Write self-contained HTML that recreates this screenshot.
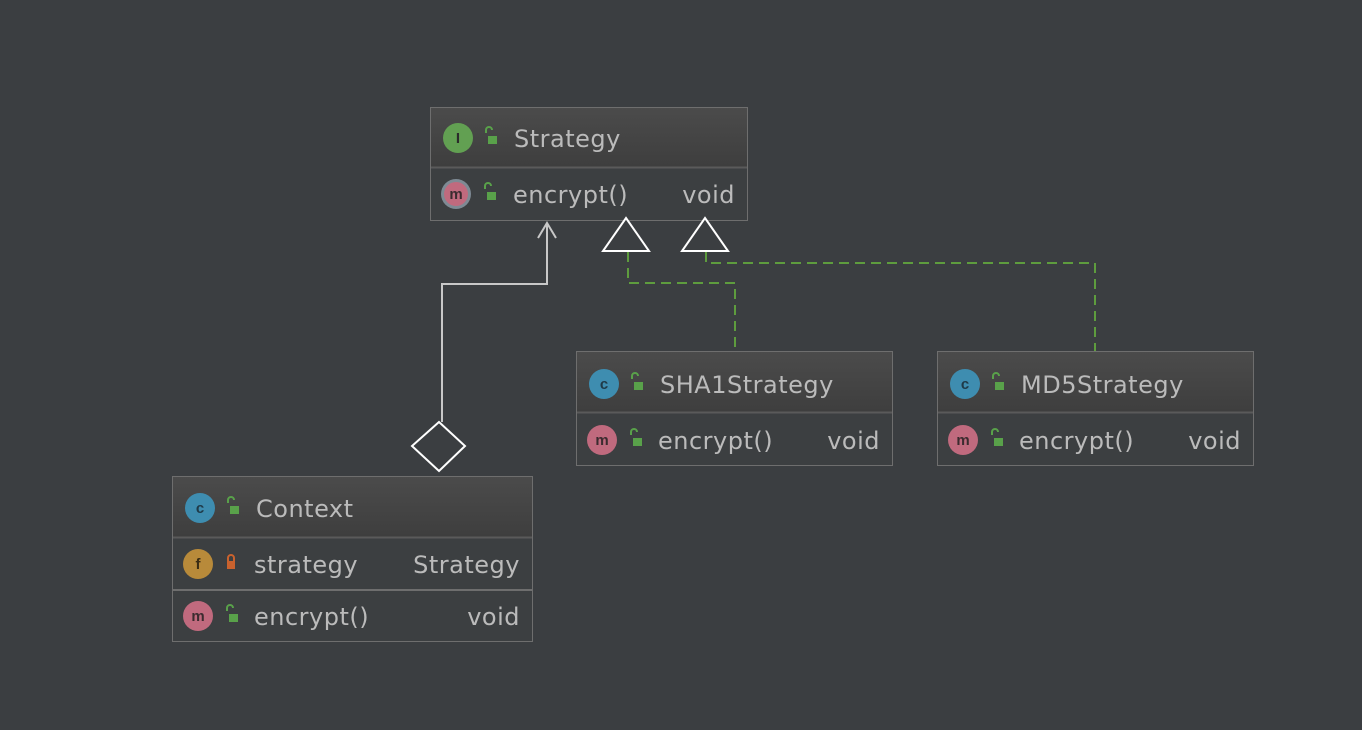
<!DOCTYPE html>
<html><head><meta charset="utf-8"><style>
html,body{margin:0;padding:0;background:#3b3e41;}
svg{display:block;}
text{font-family:"DejaVu Sans","Liberation Sans",sans-serif;font-size:24px;fill:#bbbbbb;letter-spacing:0.5px;}
.ic{font-family:"Liberation Sans",sans-serif;font-size:15px;font-weight:bold;text-anchor:middle;letter-spacing:0;}
</style></head><body>
<svg width="1362" height="730" viewBox="0 0 1362 730" xmlns="http://www.w3.org/2000/svg">
<defs>
<linearGradient id="hg" x1="0" y1="0" x2="0" y2="1">
<stop offset="0" stop-color="#4b4b4b"/><stop offset="1" stop-color="#3e3e3e"/>
</linearGradient>
<g id="lk"><path d="M-5,-8 v-3 a3,3 0 0 1 6,0" fill="none" stroke="#59a14a" stroke-width="2"/><rect x="-3" y="-5" width="9" height="8" fill="#59a14a"/></g>
<g id="lko"><path d="M-3,-3 v-3 a3,3 0 0 1 6,0 v3" fill="none" stroke="#c9622e" stroke-width="2"/><rect x="-4" y="-3" width="8" height="8" fill="#c9622e"/></g>
</defs>
<rect width="1362" height="730" fill="#3b3e41"/>

<!-- Strategy -->
<rect x="430.5" y="107.5" width="317" height="113" fill="#3c3f41" stroke="#6e6e6e"/>
<rect x="431" y="108" width="316" height="59" fill="url(#hg)"/>
<line x1="431" y1="167.5" x2="747" y2="167.5" stroke="#5a5a5a" stroke-width="2"/>
<circle cx="458" cy="138" r="15" fill="#62a052"/><text class="ic" x="458" y="143" style="fill:#2b2b2b">I</text>
<use href="#lk" x="491" y="141"/>
<text x="514" y="147">Strategy</text>
<circle cx="456" cy="194" r="15" fill="#7e8a94"/><circle cx="456" cy="194" r="12" fill="#c06a7e"/><text class="ic" x="456" y="199" style="fill:#3b2b2f">m</text>
<use href="#lk" x="490" y="197"/>
<text x="513" y="203">encrypt()</text>
<text x="735" y="203" text-anchor="end">void</text>

<!-- SHA1Strategy -->
<rect x="576.5" y="351.5" width="316" height="114" fill="#3c3f41" stroke="#6e6e6e"/>
<rect x="577" y="352" width="315" height="60" fill="url(#hg)"/>
<line x1="577" y1="412.5" x2="892" y2="412.5" stroke="#5a5a5a" stroke-width="2"/>
<circle cx="604" cy="384" r="15" fill="#3e8db0"/><text class="ic" x="604" y="389" style="fill:#1f3a48">c</text>
<use href="#lk" x="637" y="387"/>
<text x="660" y="393">SHA1Strategy</text>
<circle cx="602" cy="440" r="15" fill="#c06a7e"/><text class="ic" x="602" y="445" style="fill:#3b2b2f">m</text>
<use href="#lk" x="636" y="443"/>
<text x="658" y="449">encrypt()</text>
<text x="880" y="449" text-anchor="end">void</text>

<!-- MD5Strategy -->
<rect x="937.5" y="351.5" width="316" height="114" fill="#3c3f41" stroke="#6e6e6e"/>
<rect x="938" y="352" width="315" height="60" fill="url(#hg)"/>
<line x1="938" y1="412.5" x2="1253" y2="412.5" stroke="#5a5a5a" stroke-width="2"/>
<circle cx="965" cy="384" r="15" fill="#3e8db0"/><text class="ic" x="965" y="389" style="fill:#1f3a48">c</text>
<use href="#lk" x="998" y="387"/>
<text x="1021" y="393">MD5Strategy</text>
<circle cx="963" cy="440" r="15" fill="#c06a7e"/><text class="ic" x="963" y="445" style="fill:#3b2b2f">m</text>
<use href="#lk" x="997" y="443"/>
<text x="1019" y="449">encrypt()</text>
<text x="1241" y="449" text-anchor="end">void</text>

<!-- Context -->
<rect x="172.5" y="476.5" width="360" height="165" fill="#3c3f41" stroke="#6e6e6e"/>
<rect x="173" y="477" width="359" height="60" fill="url(#hg)"/>
<line x1="173" y1="537.5" x2="532" y2="537.5" stroke="#5a5a5a" stroke-width="2"/>
<line x1="173" y1="590" x2="532" y2="590" stroke="#6e6e6e" stroke-width="2"/>
<circle cx="200" cy="508" r="15" fill="#3e8db0"/><text class="ic" x="200" y="513" style="fill:#1f3a48">c</text>
<use href="#lk" x="233" y="511"/>
<text x="256" y="517">Context</text>
<circle cx="198" cy="564" r="15" fill="#b88a3a"/><text class="ic" x="198" y="569" style="fill:#3a2c14">f</text>
<use href="#lko" x="231" y="564"/>
<text x="254" y="573">strategy</text>
<text x="520" y="573" text-anchor="end">Strategy</text>
<circle cx="198" cy="616" r="15" fill="#c06a7e"/><text class="ic" x="198" y="621" style="fill:#3b2b2f">m</text>
<use href="#lk" x="232" y="619"/>
<text x="254" y="625">encrypt()</text>
<text x="520" y="625" text-anchor="end">void</text>

<!-- association Context -> Strategy -->
<polyline points="442,422 442,284 547,284 547,223" fill="none" stroke="#c8c8c8" stroke-width="2"/>
<polyline points="538,238 547,223 556,238" fill="none" stroke="#c8c8c8" stroke-width="2"/>
<polygon points="439,422 465,446 439,471 412,446" fill="#3b3e41" stroke="#ffffff" stroke-width="2"/>

<!-- realization -->
<polyline points="628,252 628,283 735,283 735,351" fill="none" stroke="#5e9c3e" stroke-width="2" stroke-dasharray="10,6"/>
<polyline points="706,252 706,263 1095,263 1095,351" fill="none" stroke="#5e9c3e" stroke-width="2" stroke-dasharray="10,6"/>
<polygon points="626,218 649,251 603,251" fill="#3b3e41" stroke="#ffffff" stroke-width="2"/>
<polygon points="705,218 728,251 682,251" fill="#3b3e41" stroke="#ffffff" stroke-width="2"/>
</svg>
</body></html>
